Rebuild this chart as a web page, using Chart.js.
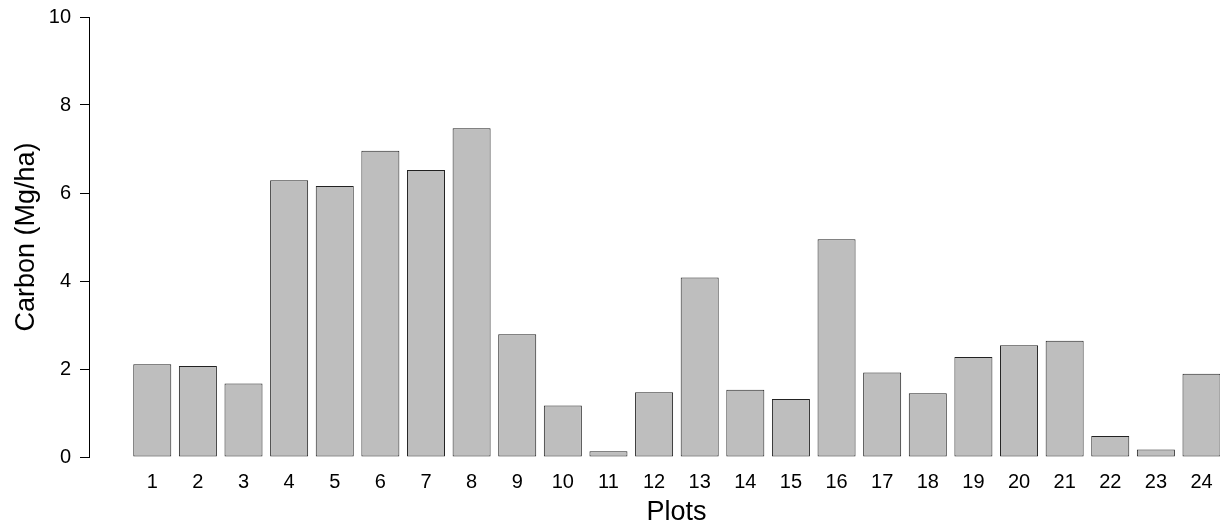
<!DOCTYPE html>
<html>
<head>
<meta charset="utf-8">
<script src="https://cdn.jsdelivr.net/npm/chart.js@4"></script>
<style>
  body { margin: 0; overflow: hidden; background: #fff; }
  #chartContainer { width: 1264px; height: 529px; }
</style>
</head>
<body>
<div id="chartContainer"><canvas id="Chart1"></canvas></div>
<script>
// carbon per plot, read from the barplot
const plots = ['1','2','3','4','5','6','7','8','9','10','11','12','13','14','15','16','17','18','19','20','21','22','23','24'];
const carbon = [2.11, 2.07, 1.67, 6.29, 6.16, 6.96, 6.52, 7.47, 2.79, 1.17, 0.13, 1.47,
                4.08, 1.53, 1.32, 4.95, 1.92, 1.45, 2.27, 2.54, 2.64, 0.48, 0.17, 1.89];
const yTicks = [0, 2, 4, 6, 8, 10];

const fontFamily = "'Liberation Sans', Arial, sans-serif";

let ctx = document.getElementById("Chart1").getContext("2d");
let Chart1 = new Chart(ctx, {
    type: 'bar',
    data: {
        datasets: [{
            data: carbon.map((v, i) => ({ x: i + 1, y: v })),
            backgroundColor: '#bebebe',
            borderColor: '#222222',
            borderWidth: 1,
            borderSkipped: false,
            barPercentage: 1 / 1.2,
            categoryPercentage: 1
        }]
    },
    options: {
        responsive: true,
        maintainAspectRatio: false,
        animation: false,
        layout: { padding: { top: 17, left: 0, right: 0, bottom: 0 } },
        plugins: {
            legend: { display: false },
            tooltip: { enabled: false }
        },
        scales: {
            x: {
                type: 'linear',
                offset: false,
                min: -0.387,
                max: 25.37,
                grid: { display: false, drawTicks: false },
                border: { display: false },
                afterBuildTicks: (scale) => {
                    scale.ticks = plots.map((p, i) => ({ value: i + 1 }));
                },
                afterFit: (scale) => { scale.height = 72; },
                ticks: {
                    padding: 13,
                    color: '#000',
                    font: { family: fontFamily, size: 20 },
                    maxRotation: 0,
                    autoSkip: false,
                    callback: (v) => plots[v - 1]
                },
                title: {
                    display: true,
                    text: 'Plots',
                    color: '#000',
                    font: { family: fontFamily, size: 27 },
                    padding: { top: 0, bottom: 0 }
                }
            },
            y: {
                min: 0,
                max: 10,
                afterBuildTicks: (scale) => {
                    scale.ticks = yTicks.map(v => ({ value: v }));
                },
                afterFit: (scale) => { scale.width = 89; },
                grid: {
                    display: true,
                    drawOnChartArea: false,
                    drawTicks: true,
                    tickLength: 9,
                    color: '#000'
                },
                border: { display: true, color: '#000', width: 1 },
                ticks: {
                    padding: 9,
                    color: '#000',
                    font: { family: fontFamily, size: 20, lineHeight: 0.8 }
                },
                title: {
                    display: true,
                    text: 'Carbon (Mg/ha)',
                    color: '#000',
                    font: { family: fontFamily, size: 27 },
                    padding: { top: 10, bottom: 0 }
                }
            }
        }
    }
});
</script>
</body>
</html>
